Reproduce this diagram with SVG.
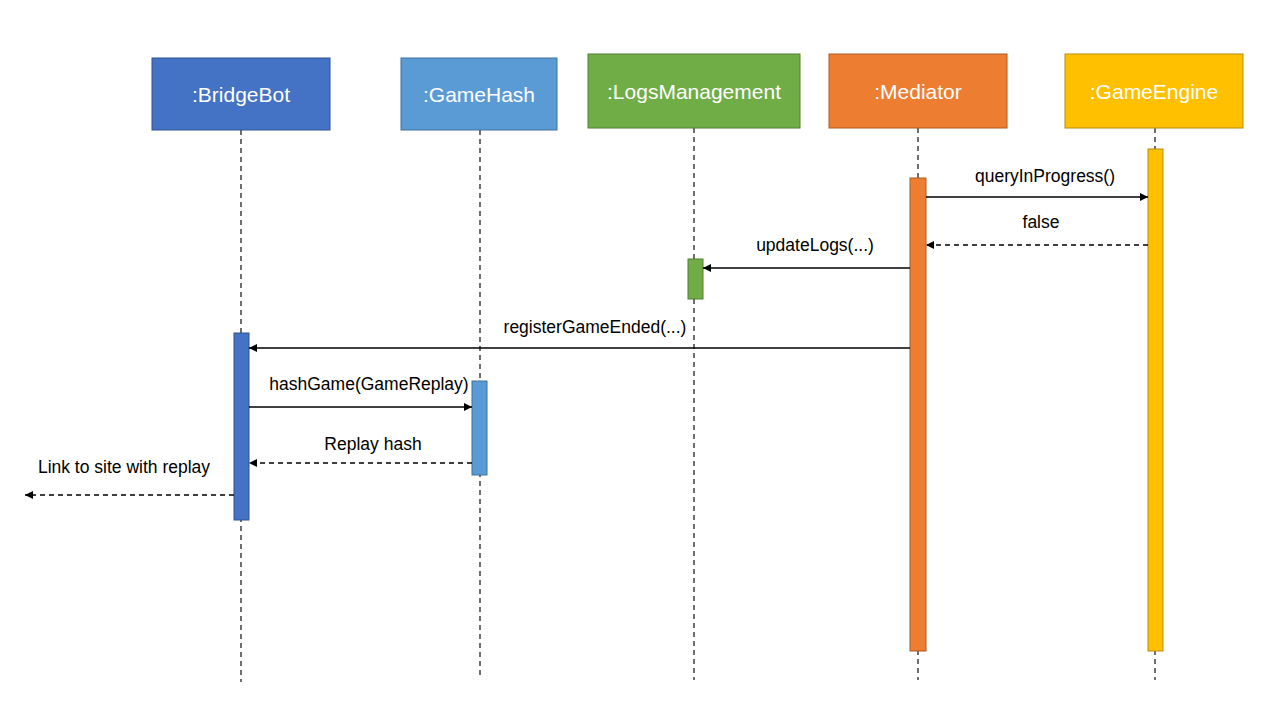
<svg xmlns="http://www.w3.org/2000/svg" width="1280" height="720" viewBox="0 0 1280 720">
<style>
.head{font-family:"Liberation Sans",Arial,sans-serif;font-size:21px;fill:#fff;text-anchor:middle}
.lbl{font-family:"Liberation Sans",Arial,sans-serif;font-size:17.5px;fill:#000;text-anchor:middle}
.life{stroke:#222;stroke-width:1.3;stroke-dasharray:5 4;fill:none}
.msg{stroke:#000;stroke-width:1.3;fill:none}
.ret{stroke:#000;stroke-width:1.3;stroke-dasharray:5 4;fill:none}
</style>
<defs>
<marker id="ah" viewBox="0 0 10 10" refX="10" refY="5" markerWidth="8" markerHeight="8" markerUnits="userSpaceOnUse" orient="auto">
<path d="M0,0 L10,5 L0,10 z" fill="#000"/>
</marker>
</defs>
<rect width="1280" height="720" fill="#fff"/>
<g id="lifelines">
<line class="life" x1="241" y1="130" x2="241" y2="682"/>
<line class="life" x1="480" y1="130" x2="480" y2="678"/>
<line class="life" x1="694" y1="128" x2="694" y2="680"/>
<line class="life" x1="918" y1="128" x2="918" y2="680"/>
<line class="life" x1="1155" y1="128" x2="1155" y2="680"/>
</g>
<g id="BridgeBot">
<rect x="152" y="58" width="178" height="72" fill="#4472C4" stroke="#2F528F"/>
<text class="head" x="241" y="102">:BridgeBot</text>
<rect x="234" y="333" width="15" height="187" fill="#4472C4" stroke="#2F528F"/>
</g>
<g id="GameHash">
<rect x="401" y="58" width="156" height="72" fill="#5B9BD5" stroke="#41719C"/>
<text class="head" x="479" y="102">:GameHash</text>
<rect x="472" y="381" width="15" height="94" fill="#5B9BD5" stroke="#41719C"/>
</g>
<g id="LogsManagement">
<rect x="588" y="54" width="212" height="74" fill="#70AD47" stroke="#507E32"/>
<text class="head" x="694" y="99">:LogsManagement</text>
<rect x="688" y="259" width="15" height="40" fill="#70AD47" stroke="#507E32"/>
</g>
<g id="Mediator">
<rect x="829" y="54" width="178" height="74" fill="#ED7D31" stroke="#AE5A21"/>
<text class="head" x="918" y="99">:Mediator</text>
<rect x="910" y="178" width="16" height="473" fill="#ED7D31" stroke="#AE5A21"/>
</g>
<g id="GameEngine">
<rect x="1065" y="54" width="178" height="74" fill="#FFC000" stroke="#BC8C00"/>
<text class="head" x="1154" y="99">:GameEngine</text>
<rect x="1148" y="149" width="15" height="502" fill="#FFC000" stroke="#BC8C00"/>
</g>
<g id="connectors">
<line class="msg" x1="926" y1="197" x2="1148" y2="197" marker-end="url(#ah)"/>
<text class="lbl" x="1045" y="182">queryInProgress()</text>
<line class="ret" x1="1148" y1="245" x2="926" y2="245" marker-end="url(#ah)"/>
<text class="lbl" x="1041" y="228">false</text>
<line class="msg" x1="910" y1="268" x2="703" y2="268" marker-end="url(#ah)"/>
<text class="lbl" x="815" y="251">updateLogs(...)</text>
<line class="msg" x1="910" y1="348" x2="249" y2="348" marker-end="url(#ah)"/>
<text class="lbl" x="595" y="333">registerGameEnded(...)</text>
<line class="msg" x1="249" y1="407" x2="472" y2="407" marker-end="url(#ah)"/>
<text class="lbl" x="369" y="390">hashGame(GameReplay)</text>
<line class="ret" x1="472" y1="463" x2="249" y2="463" marker-end="url(#ah)"/>
<text class="lbl" x="373" y="450">Replay hash</text>
<line class="ret" x1="234" y1="495" x2="25" y2="495" marker-end="url(#ah)"/>
<text class="lbl" x="124" y="473">Link to site with replay</text>
</g>
</svg>
